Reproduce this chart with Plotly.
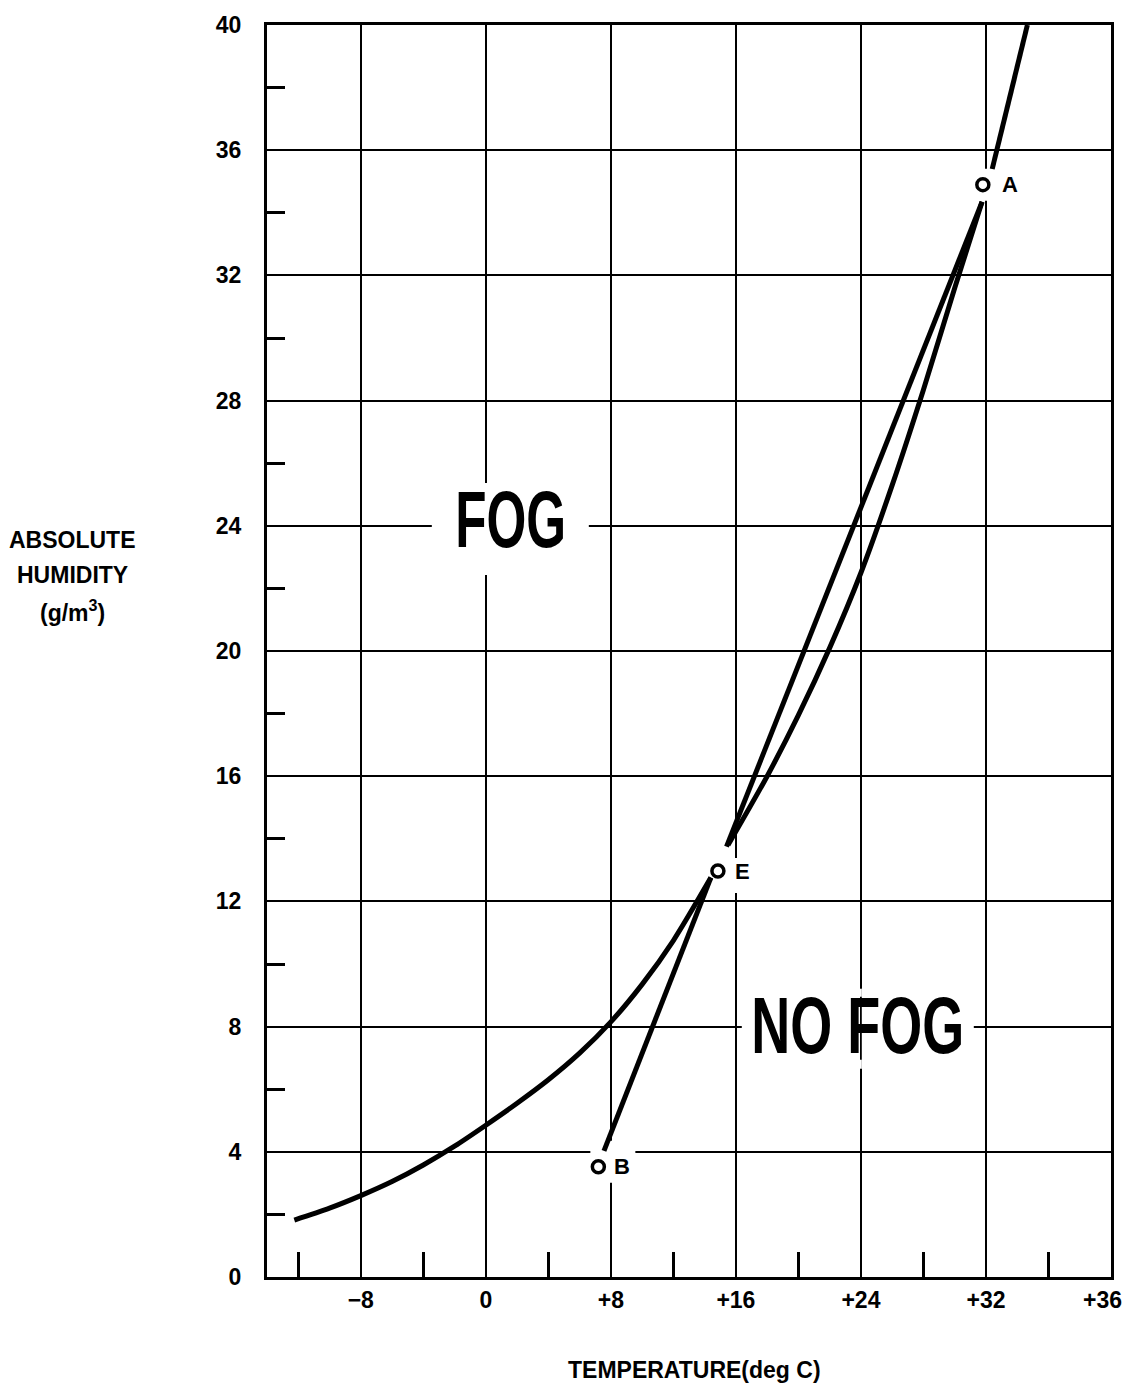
import json
import plotly.graph_objects as go

# Saturation curve (absolute humidity at saturation), drawn in three pieces
sat_lower_t = [-12.25, -10.0, -8.0, -6.0, -4.0, -2.0, 0.0, 2.0, 4.0, 6.0, 8.0, 10.0, 12.0, 14.4]
sat_lower_h = [1.82, 2.2, 2.6, 3.05, 3.58, 4.18, 4.85, 5.55, 6.3, 7.15, 8.15, 9.35, 10.75, 12.76]
sat_mid_t = [15.5, 18.0, 20.0, 22.0, 24.0, 26.0, 28.0, 30.0, 31.75]
sat_mid_h = [13.8, 16.0, 17.95, 20.1, 22.5, 25.3, 28.35, 31.6, 34.35]
sat_upper_t = [32.4, 34.65]
sat_upper_h = [35.4, 40.0]

# Mixing lines B -> E and E -> A
mix_be_t = [7.56, 14.4]
mix_be_h = [4.03, 12.76]
mix_ea_t = [15.4, 31.75]
mix_ea_h = [13.75, 34.35]

# Labelled air masses
point_names = ["A", "E", "B"]
point_t = [31.8, 14.85, 7.2]
point_h = [34.9, 12.97, 3.52]

# Region labels
region_text = ["FOG", "NO FOG"]
region_t = [1.6, 23.8]
region_h = [24.06, 7.9]

# Axis ticks (the right-hand edge carries its own label)
x_tickvals = [-8, 0, 8, 16, 24, 32]
x_ticktext = ["\u22128", "0", "+8", "+16", "+24", "+32"]
x_edge_val = 40
x_edge_text = "+36"
x_minor = [-12, -4, 4, 12, 20, 28, 36]
y_tickvals = list(range(0, 41, 4))
y_minor = list(range(2, 40, 4))

INK = "black"
LW = 5
SANS = "Liberation Sans, Arial, Helvetica, sans-serif"
BOLD = dict(family=SANS, size=23, color=INK, weight="bold")
BIG = dict(family=SANS, size=80, color=INK, weight="bold")
NARROW = [0.64, 0.675]  # horizontal squeeze giving the region labels a condensed face

fig = go.Figure()

for tx, hy in [(sat_lower_t, sat_lower_h), (sat_mid_t, sat_mid_h), (sat_upper_t, sat_upper_h),
               (mix_be_t, mix_be_h), (mix_ea_t, mix_ea_h)]:
    fig.add_trace(go.Scatter(x=tx, y=hy, mode="lines",
                             line=dict(color=INK, width=LW, shape="spline", smoothing=0.8),
                             hoverinfo="skip", showlegend=False))

fig.add_trace(go.Scatter(
    x=point_t, y=point_h, mode="markers",
    marker=dict(symbol="circle", size=12, color="white", line=dict(color=INK, width=3.5)),
    showlegend=False, hoverinfo="skip"))

shapes = []
annotations = []

# white gaps in the grid around the point labels (pixel offsets from each point)
gap_boxes = {"A": (-14, 42, -16, 16), "E": (-10, 34, -22, 13), "B": (-8, 37, -16, 26)}
label_shift = {"A": 27, "E": 25, "B": 24}
for name, t, h in zip(point_names, point_t, point_h):
    x0, x1, y0, y1 = gap_boxes[name]
    shapes.append(dict(type="rect", layer="between", xref="x", yref="y",
                       xsizemode="pixel", ysizemode="pixel", xanchor=t, yanchor=h,
                       x0=x0, x1=x1, y0=y0, y1=y1,
                       fillcolor="white", line=dict(width=0)))
    annotations.append(dict(x=t, y=h, xref="x", yref="y", text=name, showarrow=False,
                            xanchor="center", yanchor="middle",
                            xshift=label_shift[name], font=dict(BOLD, size=22)))

# white gaps in the grid behind the region labels; "NO FOG" leaves the
# +24 grid line showing between its two words
region_boxes = [[(-79, 78, -51, 41)], [(-116, -6, -39, 41), (4, 116, -39, 41), (-6, 4, -39, -30), (-6, 4, 33, 41)]]
for txt, t, h, boxes in zip(region_text, region_t, region_h, region_boxes):
    for (x0, x1, y0, y1) in boxes:
        shapes.append(dict(type="rect", layer="between", xref="x", yref="y",
                           xsizemode="pixel", ysizemode="pixel", xanchor=t, yanchor=h,
                           x0=x0, x1=x1, y0=y0, y1=y1,
                           fillcolor="white", line=dict(width=0)))
    annotations.append(dict(x=t, y=h, xref="x", yref="y", text=txt, showarrow=False,
                            xanchor="center", yanchor="middle", yshift=4, font=BIG))

# label of the right-hand edge of the temperature axis
annotations.append(dict(x=x_edge_val, y=-0.018, xref="x", yref="paper", text=x_edge_text,
                        showarrow=False, xanchor="center", yanchor="middle", xshift=-9,
                        font=BOLD))

# axis titles
for txt, py in [("ABSOLUTE", 0.589), ("HUMIDITY", 0.561), ("(g/m<sup>3</sup>)", 0.532)]:
    annotations.append(dict(x=-0.2305, y=py, xref="paper", yref="paper", text=txt,
                            xanchor="center", yanchor="middle",
                            showarrow=False, font=BOLD))
annotations.append(dict(x=0.506, y=-0.0746, xref="paper", yref="paper",
                        xanchor="center", yanchor="middle",
                        text="TEMPERATURE(deg C)", showarrow=False, font=BOLD))

axis_common = dict(showline=True, linecolor=INK, linewidth=3, mirror=True,
                   showgrid=True, gridcolor=INK, gridwidth=2.2, zeroline=False,
                   ticks="", tickfont=BOLD)

fig.update_layout(
    width=1126, height=1397,
    margin=dict(l=267, r=13, t=17, b=120),
    paper_bgcolor="white", plot_bgcolor="white",
    shapes=shapes, annotations=annotations,
    xaxis=dict(axis_common, range=[-14, 40], tickmode="array",
               tickvals=x_tickvals, ticktext=x_ticktext, ticklabelstandoff=0,
               minor=dict(tickmode="array", tickvals=x_minor, ticks="inside",
                          ticklen=25, tickwidth=2.5, tickcolor=INK, showgrid=False)),
    yaxis=dict(axis_common, range=[0, 40], tickmode="array",
               tickvals=y_tickvals, ticktext=[str(v) for v in y_tickvals],
               ticklabelstandoff=18,
               minor=dict(tickmode="array", tickvals=y_minor, ticks="inside",
                          ticklen=18, tickwidth=2.5, tickcolor=INK, showgrid=False)),
)

post = """
var gd = document.getElementById('{plot_id}');
var names = %s, squeeze = %s;
gd.querySelectorAll('text.annotation-text').forEach(function (t) {
  var i = names.indexOf(t.textContent);
  if (i < 0) return;
  var b = t.getBBox();
  var cx = b.x + b.width / 2;
  t.setAttribute('transform',
    'translate(' + cx + ',0) scale(' + squeeze[i] + ',1) translate(' + (-cx) + ',0)');
});
""" % (json.dumps(region_text), json.dumps(NARROW))

fig.write_html("out.html", post_script=post)
